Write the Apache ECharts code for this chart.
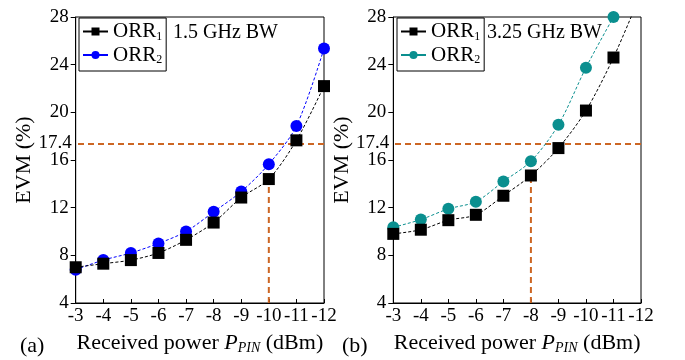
<!DOCTYPE html>
<html>
<head>
<meta charset="utf-8">
<script src="https://cdn.jsdelivr.net/npm/echarts@6/dist/echarts.min.js"></script>
<style>html,body{margin:0;padding:0;background:#fff;}#c{width:685px;height:360px;}</style>
</head>
<body>
<div id="c"></div>
<script>
// ---- data ----
const powerA = [-3, -4, -5, -6, -7, -8, -9, -10, -11, -12];
const orr1A = [7.0, 7.3, 7.6, 8.2, 9.3, 10.75, 12.85, 14.4, 17.65, 22.2];
const orr2A = [6.8, 7.6, 8.2, 9.0, 10.0, 11.65, 13.35, 15.65, 18.85, 25.35];
const powerB = [-3, -4, -5, -6, -7, -8, -9, -10, -11, -12];
const orr1B = [9.8, 10.15, 10.95, 11.4, 13.0, 14.7, 17.0, 20.15, 24.6, 30.0];
const orr2B = [10.35, 11.0, 11.9, 12.5, 14.2, 15.9, 18.95, 23.75, 28.0];
const evmTicks = [4, 8, 12, 16, 20, 24, 28];
const thresholdEVM = 17.4;
const crossA = -10;   // received power where ORR1 meets the limit (a)
const crossB = -8;    // (b)
const bwA = '1.5 GHz BW';
const bwB = '3.25 GHz BW';

const FONT = 'Liberation Serif';
const FS = 19;     // tick labels
const FT = 22;     // titles
const FL = 21;     // legend
const orange = '#cc6624';

function pairs(xs, ys) { return ys.map((v, i) => [xs[i], v]); }

function xAxisFor(gi) {
  return {
    gridIndex: gi, type: 'value', min: -12, max: -3, interval: 1, inverse: true,
    axisLine: { lineStyle: { color: '#000', width: 1 } },
    axisTick: { inside: true, length: 4, lineStyle: { color: '#000' } },
    splitLine: { show: false },
    axisLabel: { color: '#000', fontFamily: FONT, fontSize: FS, margin: 4 },
    name: 'Received power {i|P}{si|PIN} (dBm)',
    nameLocation: 'middle', nameGap: 28,
    nameTextStyle: {
      color: '#000', fontFamily: FONT, fontSize: FT,
      rich: {
        i: { fontFamily: FONT, fontSize: FT, fontStyle: 'italic', color: '#000' },
        si: { fontFamily: FONT, fontSize: 14, fontStyle: 'italic', color: '#000', padding: [10, 0, 0, 0] }
      }
    }
  };
}
function yAxisFor(gi) {
  return {
    gridIndex: gi, type: 'value', min: evmTicks[0], max: evmTicks[evmTicks.length - 1], interval: 4,
    axisLine: { show: true, lineStyle: { color: '#000', width: 1 } },
    axisTick: { show: true, inside: false, length: 5, lineStyle: { color: '#000' } },
    splitLine: { show: false },
    axisLabel: { color: '#000', fontFamily: FONT, fontSize: FS, margin: 7 },
    name: 'EVM (%)', nameLocation: 'middle', nameGap: 40, nameRotate: 90,
    nameTextStyle: { color: '#000', fontFamily: FONT, fontSize: FT }
  };
}
function curve(name, gi, xs, ys, color, symbol, size) {
  return {
    name: name, type: 'line', xAxisIndex: gi, yAxisIndex: gi,
    data: pairs(xs, ys), smooth: 0.3, symbol: symbol, symbolSize: size,
    itemStyle: { color: color },
    lineStyle: { color: color, width: 1, type: [3, 2] },
    z: 5
  };
}
function limitLines(gi, cross, yTop) {
  return {
    type: 'line', xAxisIndex: gi, yAxisIndex: gi, silent: true, symbol: 'none',
    data: [[cross, evmTicks[0]], [cross, yTop]],
    lineStyle: { color: orange, width: 2, type: [6, 4] },
    markLine: {
      silent: true, symbol: 'none',
      lineStyle: { color: orange, width: 2, type: [6, 4] },
      label: { show: true, position: 'end', formatter: String(thresholdEVM), color: '#000', fontFamily: FONT, fontSize: FS, distance: 4 },
      data: [{ yAxis: thresholdEVM }]
    },
    z: 3
  };
}
function legendFor(left, names) {
  return {
    orient: 'vertical', left: left, top: 18, data: names,
    borderColor: '#000', borderWidth: 1, padding: [3, 4, 5, 3], itemGap: 2,
    itemWidth: 25, itemHeight: 10,
    lineStyle: { type: 'solid' },
    formatter: n => 'ORR{s|' + n.charAt(3) + '}',
    textStyle: {
      color: '#000', fontFamily: FONT, fontSize: FL,
      rich: { s: { fontFamily: FONT, fontSize: 12, color: '#000', padding: [10, 0, 0, 0] } }
    }
  };
}

const idxA = powerA.indexOf(crossA);
const idxB = powerB.indexOf(crossB);

const chart = echarts.init(document.getElementById('c'));
chart.setOption({
  animation: false,
  backgroundColor: '#fff',
  grid: [
    { left: 75.7, right: 361, top: 17, bottom: 54, show: true, borderColor: '#000', borderWidth: 1 },
    { left: 393.3, right: 44, top: 17, bottom: 54, show: true, borderColor: '#000', borderWidth: 1 }
  ],
  xAxis: [xAxisFor(0), xAxisFor(1)],
  yAxis: [yAxisFor(0), yAxisFor(1)],
  legend: [legendFor(79, ['ORR1a', 'ORR2a']), legendFor(397, ['ORR1b', 'ORR2b'])],
  graphic: [
    { type: 'text', left: 173, top: 23, style: { text: bwA, font: '20px "' + FONT + '"', fill: '#000' } },
    { type: 'text', left: 487, top: 23, style: { text: bwB, font: '20px "' + FONT + '"', fill: '#000' } },
    { type: 'text', left: 20, top: 335, style: { text: '(a)', font: FT + 'px "' + FONT + '"', fill: '#000' } },
    { type: 'text', left: 342, top: 335, style: { text: '(b)', font: FT + 'px "' + FONT + '"', fill: '#000' } }
  ],
  series: [
    limitLines(0, crossA, orr1A[idxA]),
    limitLines(1, crossB, orr1B[idxB]),
    curve('ORR2a', 0, powerA, orr2A, '#0000ff', 'circle', 12),
    curve('ORR1a', 0, powerA, orr1A, '#000000', 'rect', 12),
    curve('ORR2b', 1, powerB, orr2B, '#0a8f8f', 'circle', 12),
    curve('ORR1b', 1, powerB, orr1B, '#000000', 'rect', 12)
  ]
});
</script>
</body>
</html>
